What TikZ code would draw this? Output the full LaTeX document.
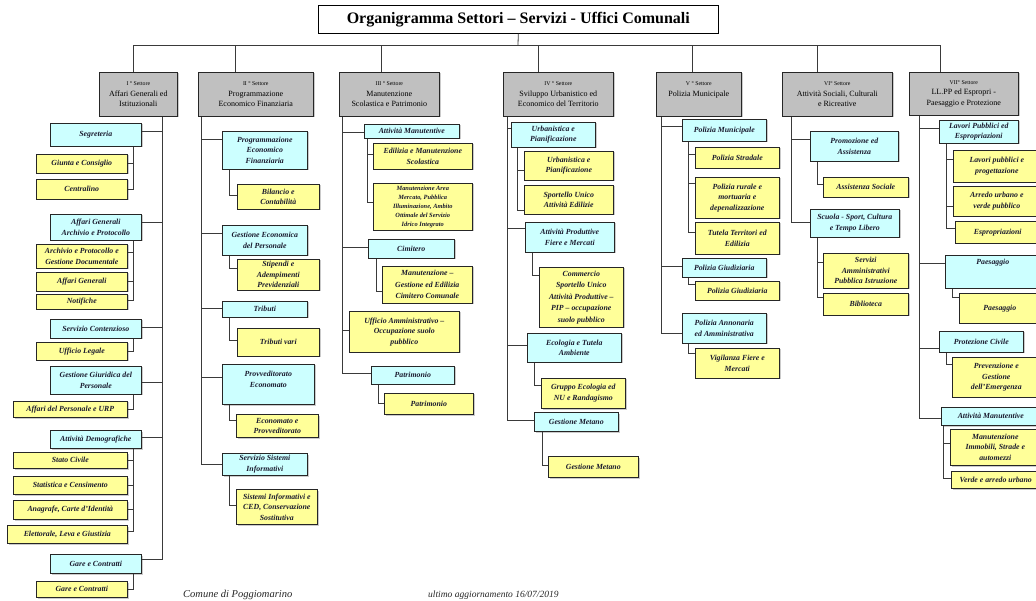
\documentclass[tikz,border=0pt]{standalone}
\usepackage{fontspec}
\setmainfont{Liberation Serif}
\usetikzlibrary{shadows}
\definecolor{secgray}{HTML}{C0C0C0}
\definecolor{cyanbox}{HTML}{CCFFFF}
\definecolor{yelbox}{HTML}{FFFF99}
\definecolor{lncol}{HTML}{3A3A3A}
\definecolor{txtcol}{HTML}{1A1A2E}
\newcommand\sectsz{\fontsize{5.8}{7}\selectfont}
\newcommand\ob[7]{\node[#1, anchor=north west, minimum width={(#5-#3)*1pt}, minimum height={(#6-#4)*1pt}] (#2) at (#3,#4) {#7};}
\tikzset{
  box/.style={draw=black!85, line width=0.6pt, inner sep=1pt, align=center,
    drop shadow={shadow xshift=1.2pt, shadow yshift=-1.2pt, fill=black!40}},
  sec/.style={box, fill=secgray, text=black, font=\fontsize{8}{10.5}\selectfont},
  cy/.style={box, fill=cyanbox, text=txtcol, font=\fontsize{7.8}{10.5}\selectfont\bfseries\itshape},
  ye/.style={box, fill=yelbox, text=txtcol, font=\fontsize{7.8}{10.5}\selectfont\bfseries\itshape},
  ln/.style={draw=lncol, line width=0.8pt},
  foot/.style={font=\itshape, text=black!85, inner sep=0pt, anchor=base west}
}
\begin{document}
\begin{tikzpicture}[x=1pt,y=-1pt]
\fill[white] (0,0) rectangle (1036,601);
\clip (0,0) rectangle (1036,601);
% title
\node[draw=black, line width=0.6pt, fill=white, anchor=north west, minimum width=400pt, minimum height=28pt,
  font=\fontsize{16}{18}\selectfont\bfseries] (title) at (318,5) {Organigramma Settori – Servizi - Uffici Comunali};
% sectors
\ob{sec}{s1}{99}{72}{177}{116}{{\sectsz I ° Settore}\\Affari Generali ed\\Istituzionali}
\ob{sec}{s2}{198}{72}{313}{116}{{\sectsz II ° Settore}\\Programmazione\\Economico Finanziaria}
\ob{sec}{s3}{339}{72}{439}{116}{{\sectsz III ° Settore}\\Manutenzione\\Scolastica e Patrimonio}
\ob{sec}{s4}{503}{72}{613}{116}{{\sectsz IV ° Settore}\\Sviluppo Urbanistico ed\\Economico del Territorio}
\ob{sec}{s5}{656}{72}{741}{116}{{\sectsz V ° Settore}\\Polizia Municipale\\\mbox{}}
\ob{sec}{s6}{782}{72}{892}{116}{{\sectsz VI° Settore}\\Attività Sociali, Culturali\\e Ricreative}
\ob{sec}{s7}{909}{72}{1018}{115}{{\sectsz VII° Settore}\\LL.PP ed Espropri -\\Paesaggio e Protezione}
% sector I
\ob{cy}{seg}{50}{123}{141}{146}{Segreteria}
\ob{ye}{giunta}{36}{154}{127}{173}{Giunta e Consiglio}
\ob{ye}{central}{36}{179}{127}{199}{Centralino}
\ob{cy}{agap}{50}{214}{141}{240}{Affari Generali\\Archivio e Protocollo}
\ob{ye}{arch}{36}{244}{127}{268}{Archivio e Protocollo e\\Gestione Documentale}
\ob{ye}{affgen}{36}{272}{127}{291}{Affari Generali}
\ob{ye}{notif}{36}{294}{127}{309}{Notifiche}
\ob{cy}{scont}{50}{319}{141}{338}{Servizio Contenzioso}
\ob{ye}{uleg}{36}{342}{127}{360}{Ufficio Legale}
\ob{cy}{ggp}{50}{366}{141}{394}{Gestione Giuridica del\\Personale}
\ob{ye}{afp}{13}{401}{127}{417}{Affari del Personale e URP}
\ob{cy}{adem}{50}{430}{141}{448}{Attività Demografiche}
\ob{ye}{sciv}{13}{452}{127}{468}{Stato Civile}
\ob{ye}{stat}{13}{476}{127}{494}{Statistica e Censimento}
\ob{ye}{anag}{13}{500}{127}{519}{Anagrafe, Carte d'Identità}
\ob{ye}{elet}{7}{525}{127}{543}{Elettorale, Leva e Giustizia}
\ob{cy}{gare}{50}{554}{141}{573}{Gare e Contratti}
\ob{ye}{garey}{36}{581}{127}{597}{Gare e Contratti}
% sector II
\ob{cy}{pef}{222}{131}{307}{169}{Programmazione\\Economico\\Finanziaria}
\ob{ye}{bil}{237}{184}{319}{209}{Bilancio e\\Contabilità}
\ob{cy}{gep}{222}{225}{307}{255}{Gestione Economica\\del Personale}
\ob{ye}{stip}{237}{259}{319}{290}{Stipendi e\\Adempimenti\\Previdenziali}
\ob{cy}{trib}{222}{301}{307}{317}{Tributi}
\ob{ye}{tribv}{237}{328}{319}{356}{Tributi vari}
\ob{cy}{prov}{222}{364}{314}{404}{Provveditorato\\Economato\\\mbox{}}
\ob{ye}{econ}{236}{414}{318}{437}{Economato e\\Provveditorato}
\ob{cy}{ssi}{222}{453}{307}{475}{Servizio Sistemi\\Informativi}
\ob{ye}{ced}{236}{489}{317}{524}{Sistemi Informativi e\\CED, Conservazione\\Sostitutiva}
% sector III
\ob{cy}{am}{364}{124}{459}{138}{Attività Manutentive}
\ob{ye}{edil}{373}{143}{472}{169}{Edilizia e Manutenzione\\Scolastica}
\ob{ye, font=\fontsize{6.4}{9}\selectfont\bfseries\itshape}{mare}{373}{183}{472}{230}{Manutenzione Area\\Mercato, Pubblica\\Illuminazione, Ambito\\Ottimale del Servizio\\Idrico Integrato}
\ob{cy}{cim}{368}{239}{454}{258}{Cimitero}
\ob{ye, font=\fontsize{7.8}{11.5}\selectfont\bfseries\itshape}{mcim}{382}{266}{472}{303}{Manutenzione –\\Gestione ed Edilizia\\Cimitero Comunale}
\ob{ye}{uao}{349}{311}{459}{352}{Ufficio Amministrativo –\\Occupazione suolo\\pubblico}
\ob{cy}{patr}{371}{366}{454}{384}{Patrimonio}
\ob{ye}{patry}{384}{393}{473}{414}{Patrimonio}
% sector IV
\ob{cy}{urb}{511}{122}{595}{147}{Urbanistica e\\Pianificazione}
\ob{ye}{urby}{524}{151}{613}{180}{Urbanistica e\\Pianificazione}
\ob{ye}{suae}{524}{185}{613}{214}{Sportello Unico\\Attività Edilizie}
\ob{cy}{apfm}{525}{222}{614}{252}{Attività Produttive\\Fiere e Mercati}
\ob{ye, font=\fontsize{7.8}{11.5}\selectfont\bfseries\itshape}{comm}{539}{267}{623}{327}{Commercio\\Sportello Unico\\Attività Produttive –\\PIP – occupazione\\suolo pubblico}
\ob{cy}{eta}{527}{333}{621}{362}{Ecologia e Tutela\\Ambiente}
\ob{ye}{gruppo}{541}{378}{625}{408}{Gruppo Ecologia ed\\NU e Randagismo}
\ob{cy}{gm}{534}{412}{618}{431}{Gestione Metano}
\ob{ye}{gmy}{548}{456}{638}{477}{Gestione Metano}
% sector V
\ob{cy}{pm}{682}{119}{766}{141}{Polizia Municipale}
\ob{ye}{ps}{695}{147}{779}{168}{Polizia Stradale}
\ob{ye}{prm}{695}{177}{779}{218}{Polizia rurale e\\mortuaria e\\depenalizzazione}
\ob{ye}{tte}{695}{222}{779}{254}{Tutela Territori ed\\Edilizia}
\ob{cy}{pg}{682}{258}{766}{277}{Polizia Giudiziaria}
\ob{ye}{pgy}{695}{281}{779}{300}{Polizia Giudiziaria}
\ob{cy}{paa}{682}{313}{766}{343}{Polizia Annonaria\\ed Amministrativa}
\ob{ye}{vfm}{695}{348}{779}{378}{Vigilanza Fiere e\\Mercati}
% sector VI
\ob{cy}{pea}{810}{131}{898}{161}{Promozione ed\\Assistenza}
\ob{ye}{as}{823}{177}{908}{197}{Assistenza Sociale}
\ob{cy}{sspc}{810}{209}{899}{237}{Scuola - Sport, Cultura\\e Tempo Libero}
\ob{ye}{sapi}{823}{253}{908}{288}{Servizi\\Amministrativi\\Pubblica Istruzione}
\ob{ye}{bib}{823}{293}{908}{315}{Biblioteca}
% sector VII
\ob{cy}{lpe}{939}{120}{1018}{143}{Lavori Pubblici ed\\Espropriazioni}
\ob{ye}{lpp}{953}{150}{1040}{182}{Lavori pubblici e\\progettazione}
\ob{ye}{auvp}{953}{186}{1040}{216}{Arredo urbano e\\verde pubblico}
\ob{ye}{esp}{955}{221}{1040}{243}{Espropriazioni}
\ob{cy}{pae}{945}{255}{1040}{288}{Paesaggio\\\mbox{}\\\mbox{}}
\ob{ye}{paey}{959}{293}{1040}{323}{Paesaggio}
\ob{cy}{pc}{939}{331}{1023}{352}{Protezione Civile}
\ob{ye}{pge}{952}{357}{1040}{397}{Prevenzione e\\Gestione\\dell'Emergenza}
\ob{cy}{amv}{941}{407}{1040}{425}{Attività Manutentive}
\ob{ye}{mis}{950}{429}{1040}{465}{Manutenzione\\Immobili, Strade e\\automezzi}
\ob{ye}{vau}{951}{471}{1040}{488}{Verde e arredo urbano}
% footer
\node[foot, font=\fontsize{10.5}{12}\selectfont\itshape] (f1) at (183,597) {Comune di Poggiomarino};
\node[foot, font=\fontsize{9.5}{12}\selectfont\itshape] (f2) at (428,597) {ultimo aggiornamento 16/07/2019};
% top connectors
\coordinate (hub) at (518,45);
\draw[ln] (title.south) -- (hub);
\foreach \s/\x in {s1/133,s2/235,s3/381,s4/538,s5/692,s6/817,s7/940}
  \draw[ln] (\s.north -| \x,0) |- (hub);
% sector I
\foreach \c/\y in {seg/131,agap/222,scont/327,ggp/382,adem/437,gare/559}
  \draw[ln] (s1.south -| 162,0) |- (\c.east |- 0,\y);
\foreach \p/\c/\y in {seg/giunta/163,seg/central/189,agap/arch/252,agap/affgen/281,agap/notif/300,
  scont/uleg/351,ggp/afp/409,adem/sciv/460,adem/stat/485,adem/anag/509,adem/elet/531,gare/garey/589}
  \draw[ln] (\p.south -| 133,0) |- (\c.east |- 0,\y);
% sector II
\foreach \c/\y in {pef/139,gep/233,trib/308,prov/377,ssi/464}
  \draw[ln] (s2.south -| 201,0) |- (\c.west |- 0,\y);
\foreach \p/\c/\y in {pef/bil/195,gep/stip/268,trib/tribv/340,prov/econ/420,ssi/ced/505}
  \draw[ln] (\p.south -| 229,0) |- (\c.west |- 0,\y);
% sector III
\foreach \c/\y in {am/132,cim/247,uao/330,patr/373}
  \draw[ln] (s3.south -| 342,0) |- (\c.west |- 0,\y);
\foreach \c/\y in {edil/154,mare/202}
  \draw[ln] (am.south -| 367,0) |- (\c.west |- 0,\y);
\draw[ln] (cim.south -| 376,0) |- (mcim.west |- 0,291);
\draw[ln] (patr.south -| 378,0) |- (patry.west |- 0,403);
% sector IV
\foreach \c/\y in {urb/128,apfm/228,eta/345,gm/420}
  \draw[ln] (s4.south -| 507,0) |- (\c.west |- 0,\y);
\foreach \c/\y in {urby/170,suae/210}
  \draw[ln] (urb.south -| 517,0) |- (\c.west |- 0,\y);
\draw[ln] (apfm.south -| 532,0) |- (comm.west |- 0,275);
\draw[ln] (eta.south -| 534,0) |- (gruppo.west |- 0,385);
\draw[ln] (gm.south -| 542,0) |- (gmy.west |- 0,465);
% sector V
\foreach \c/\y in {pm/126,pg/266,paa/333}
  \draw[ln] (s5.south -| 661,0) |- (\c.west |- 0,\y);
\foreach \p/\c/\y in {pm/ps/154,pm/prm/183,pm/tte/232,pg/pgy/284,paa/vfm/353}
  \draw[ln] (\p.south -| 688,0) |- (\c.west |- 0,\y);
% sector VI
\foreach \c/\y in {pea/139,sspc/222}
  \draw[ln] (s6.south -| 791,0) |- (\c.west |- 0,\y);
\foreach \p/\c/\y in {pea/as/184,sspc/sapi/262,sspc/bib/297}
  \draw[ln] (\p.south -| 817,0) |- (\c.west |- 0,\y);
% sector VII
\foreach \c/\y in {lpe/128,pae/263,pc/348,amv/418}
  \draw[ln] (s7.south -| 919,0) |- (\c.west |- 0,\y);
\foreach \c/\y in {lpp/159,auvp/206,esp/228}
  \draw[ln] (lpe.south -| 946,0) |- (\c.west |- 0,\y);
\draw[ln] (pae.south -| 952,0) |- (paey.west |- 0,297);
\draw[ln] (pc.south -| 946,0) |- (pge.west |- 0,364);
\foreach \c/\y in {mis/443,vau/478}
  \draw[ln] (amv.south -| 943,0) |- (\c.west |- 0,\y);
\end{tikzpicture}
\end{document}
